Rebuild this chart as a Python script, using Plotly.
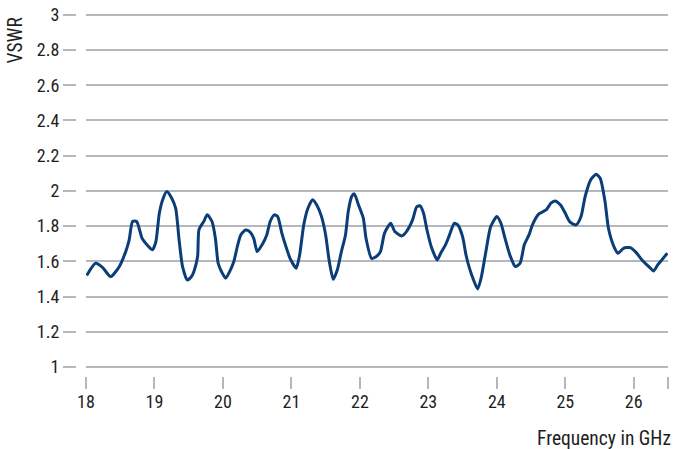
import plotly.graph_objects as go

freq_ghz = [18.01, 18.14, 18.24, 18.36, 18.48, 18.58, 18.63, 18.68, 18.74, 18.82, 18.90, 18.97,
            19.02, 19.07, 19.12, 19.18, 19.25, 19.31, 19.36, 19.41, 19.48, 19.54, 19.58, 19.63,
            19.65, 19.72, 19.77, 19.84, 19.89, 19.93, 19.98, 20.04, 20.11, 20.16, 20.21, 20.26,
            20.33, 20.39, 20.45, 20.50, 20.57, 20.64, 20.69, 20.75, 20.80, 20.86, 20.92, 20.98,
            21.07, 21.12, 21.18, 21.24, 21.31, 21.37, 21.44, 21.50, 21.55, 21.61, 21.67, 21.73,
            21.79, 21.83, 21.88, 21.92, 21.98, 22.05, 22.09, 22.17, 22.24, 22.30, 22.36, 22.45,
            22.51, 22.61, 22.68, 22.77, 22.83, 22.88, 22.93, 22.98, 23.05, 23.13, 23.18, 23.25,
            23.30, 23.38, 23.43, 23.50, 23.55, 23.60, 23.66, 23.72, 23.77, 23.84, 23.91, 24.00,
            24.06, 24.12, 24.19, 24.27, 24.34, 24.40, 24.47, 24.52, 24.61, 24.72, 24.79, 24.85,
            24.93, 25.00, 25.07, 25.16, 25.23, 25.29, 25.37, 25.45, 25.51, 25.58, 25.63, 25.71,
            25.77, 25.85, 25.95, 26.03, 26.12, 26.22, 26.29, 26.35, 26.41, 26.49]
vswr = [1.52, 1.589, 1.566, 1.513, 1.566, 1.655, 1.72, 1.826, 1.826, 1.73, 1.69, 1.665,
        1.71, 1.87, 1.95, 1.996, 1.96, 1.90, 1.72, 1.57, 1.494, 1.513, 1.547, 1.627,
        1.78, 1.826, 1.864, 1.826, 1.73, 1.589, 1.541, 1.504, 1.551, 1.60, 1.684, 1.75,
        1.778, 1.769, 1.73, 1.655, 1.693, 1.75, 1.826, 1.864, 1.854, 1.76, 1.684, 1.617,
        1.561, 1.636, 1.807, 1.90, 1.95, 1.92, 1.854, 1.75, 1.608, 1.498, 1.551, 1.655,
        1.75, 1.883, 1.968, 1.983, 1.92, 1.845, 1.73, 1.617, 1.627, 1.655, 1.76, 1.816,
        1.769, 1.744, 1.769, 1.835, 1.91, 1.915, 1.873, 1.778, 1.674, 1.608, 1.646, 1.693,
        1.74, 1.816, 1.807, 1.74, 1.636, 1.561, 1.494, 1.443, 1.504, 1.655, 1.797, 1.854,
        1.816, 1.73, 1.636, 1.57, 1.589, 1.693, 1.75, 1.807, 1.868, 1.892, 1.93, 1.943,
        1.92, 1.873, 1.822, 1.807, 1.854, 1.968, 2.062, 2.095, 2.072, 1.94, 1.788, 1.684,
        1.646, 1.674, 1.678, 1.652, 1.608, 1.57, 1.545, 1.58, 1.608, 1.646]

x_ticks = [18, 19, 20, 21, 22, 23, 24, 25, 26, 26.5]
x_tick_text = ["18", "19", "20", "21", "22", "23", "24", "25", "26", ""]
y_ticks = [1, 1.2, 1.4, 1.6, 1.8, 2, 2.2, 2.4, 2.6, 2.8, 3]
y_tick_text = ["1", "1.2", "1.4", "1.6", "1.8", "2", "2.2", "2.4", "2.6", "2.8", "3"]

FONT = "Roboto Condensed, Roboto, sans-serif"
GRID = "#b4b8bc"
TEXT = "#1e1e1e"

fig = go.Figure()
fig.add_trace(go.Scatter(
    x=freq_ghz, y=vswr, mode="lines",
    line=dict(color="#0b3d78", width=3, shape="spline", smoothing=0.6),
    hoverinfo="skip", showlegend=False,
))

fig.update_layout(
    width=673, height=449,
    margin=dict(l=76, r=5, t=13, b=73),
    paper_bgcolor="white", plot_bgcolor="white",
    font=dict(family=FONT, size=18, color=TEXT),
    xaxis=dict(
        domain=[10 / 592, 1],
        range=[18, 26.5],
        anchor="free", position=0,
        tickmode="array", tickvals=x_ticks, ticktext=x_tick_text,
        ticks="outside", ticklen=12, tickwidth=2, tickcolor=GRID,
        ticklabelstandoff=-3,
        showgrid=False, zeroline=False, showline=False,
    ),
    yaxis=dict(
        domain=[0.02, 1],
        range=[0.99, 3.01],
        anchor="free", position=0,
        tickmode="array", tickvals=y_ticks, ticktext=y_tick_text,
        ticks="outside", ticklen=13, tickwidth=1.5, tickcolor=GRID,
        showgrid=True, gridcolor=GRID, gridwidth=1.5,
        zeroline=False, showline=False,
    ),
    annotations=[
        dict(text="Frequency in GHz", xref="paper", yref="paper",
             x=1, y=0, xanchor="right", yanchor="top", xshift=5, yshift=-49,
             showarrow=False, font=dict(family=FONT, size=19.5, color=TEXT)),
        dict(text="VSWR", xref="paper", yref="paper",
             x=0, y=1, xanchor="center", yanchor="top", xshift=-61, yshift=-2,
             textangle=-90, showarrow=False,
             font=dict(family=FONT, size=19.5, color=TEXT)),
    ],
)

fig.write_html("out.html", config={"displayModeBar": False},
               post_script="document.body.style.margin='0';")
